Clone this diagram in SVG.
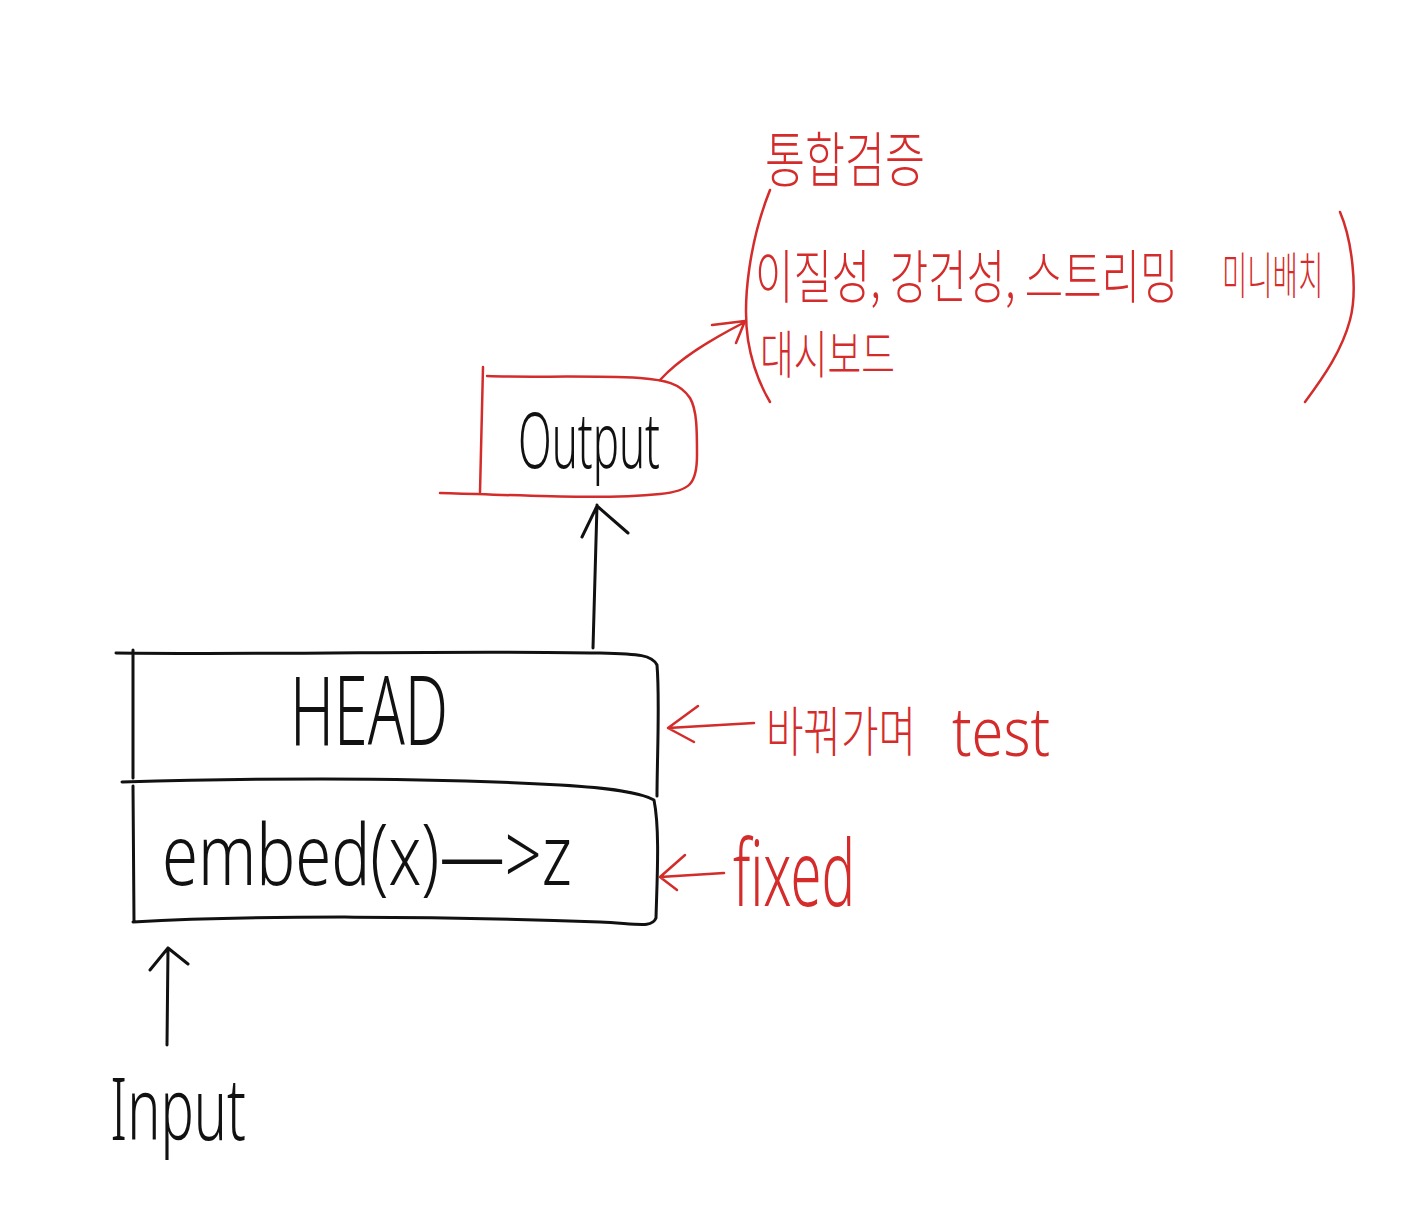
<svg xmlns="http://www.w3.org/2000/svg" width="1409" height="1216" viewBox="0 0 1409 1216">
<style>
.bk{fill:none;stroke:#111;stroke-width:3;stroke-linecap:round;stroke-linejoin:round}
.rd{fill:none;stroke:#d42b2b;stroke-width:2.5;stroke-linecap:round;stroke-linejoin:round}
.tb{fill:#111;font-family:"Noto Sans","Liberation Sans",sans-serif;font-weight:300}
.tr{fill:#d42b2b;font-family:"Noto Sans","Noto Sans CJK KR",sans-serif;font-weight:300}
.kr{font-family:"Noto Sans CJK KR",sans-serif}
</style>
<rect width="1409" height="1216" fill="#fff"/>
<g id="output">
<path class="rd" d="M483,367 L480,492 M440,493 C520,495 600,500 660,494 C690,491 697,484 697,455 C697,430 697,410 690,398 C680,383 665,380 640,378 C580,375 530,378 487,376"/>
<text class="tb" x="518" y="468" font-size="78" textLength="142" lengthAdjust="spacingAndGlyphs">Output</text>
</g>
<g id="head">
<path class="bk" d="M116,653 C300,655 450,650 600,653 C640,654 652,655 657,665 C660,700 657,760 657,796 M133,650 L133,778"/>
<text class="tb" x="290" y="745" font-size="96" textLength="158" lengthAdjust="spacingAndGlyphs">HEAD</text>
</g>
<g id="embed">
<path class="bk" d="M122,782 C260,778 420,777 560,785 C610,788 640,792 654,800 C660,830 657,880 656,918 C652,928 640,924 600,922 C440,916 260,915 133,922 M133,786 L134,922"/>
<text class="tb" x="162" y="885" font-size="84" textLength="410" lengthAdjust="spacingAndGlyphs">embed(x)—&gt;z</text>
</g>
<g id="input">
<text class="tb" x="110" y="1140" font-size="86" textLength="136" lengthAdjust="spacingAndGlyphs">Input</text>
</g>
<g id="notes">
<text class="tr kr" x="765" y="182" font-size="60" textLength="160" lengthAdjust="spacingAndGlyphs">통합검증</text>
<text class="tr kr" x="0" y="0" font-size="58" transform="translate(755,298) scale(0.72,1)">이질성, 강건성, 스트리밍</text>
<text class="tr kr" x="0" y="0" font-size="50" transform="translate(1222,294) scale(0.55,1)">미니배치</text>
<text class="tr kr" x="760" y="374" font-size="52" textLength="135" lengthAdjust="spacingAndGlyphs">대시보드</text>
<path class="rd" d="M770,190 C750,240 742,300 748,340 C752,365 760,385 770,402"/>
<path class="rd" d="M1340,212 C1352,240 1358,290 1350,320 C1342,350 1325,375 1305,402"/>
<text class="tr kr" x="766" y="752" font-size="54" textLength="150" lengthAdjust="spacingAndGlyphs">바꿔가며</text>
<text class="tr" x="952" y="756" font-size="68" textLength="98" lengthAdjust="spacingAndGlyphs">test</text>
<text class="tr" x="733" y="906" font-size="92" textLength="122" lengthAdjust="spacingAndGlyphs">fixed</text>
</g>
<g id="connectors">
<path class="bk" d="M593,648 L597,505 M582,537 L597,506 L628,533"/>
<path class="bk" d="M167,1045 L168,948 M150,970 L168,948 L188,964"/>
<path class="rd" d="M754,723 L668,728 M698,706 L668,728 L694,742"/>
<path class="rd" d="M724,873 L660,877 M685,855 L660,877 L677,890"/>
<path class="rd" d="M660,380 C680,358 710,340 745,322 M712,325 L745,321 L736,343"/>
</g>
</svg>
